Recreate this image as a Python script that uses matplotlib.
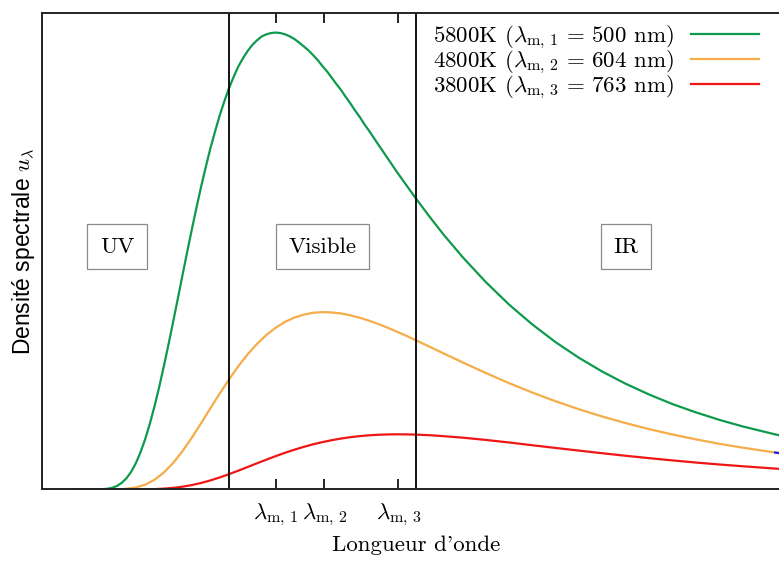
import matplotlib
matplotlib.use("Agg")
import matplotlib.pyplot as plt

plt.rcParams['mathtext.fontset'] = 'cm'
plt.rcParams['font.family'] = 'cmr10'
plt.rcParams['axes.formatter.use_mathtext'] = True

# wavelength (nm) and spectral density (green peak = 1)
# 5800K curve, read on a finer grid because it bends more
lam_g = [60, 100, 110, 120, 130, 140, 150, 160, 170, 180, 190, 200, 210, 220, 230,
         240, 250, 260, 270, 280, 290, 300, 310, 320, 330, 340, 350, 360, 370, 380,
         390, 400, 410, 420, 430, 440, 450, 460, 470, 480, 490, 500, 510, 520, 530,
         540, 550, 560, 570, 580, 590, 600, 610, 620, 630, 640, 650, 660, 670, 680,
         690, 700, 720, 740, 760, 780, 800, 830, 860, 900, 950, 1000, 1050, 1100,
         1150, 1200, 1250, 1300, 1350, 1400, 1450, 1500, 1570, 1600]
u5800 = [0, 0, 0, 0.0002, 0.0006, 0.0017, 0.0038, 0.0078, 0.0144, 0.0242, 0.0382,
         0.0567, 0.0803, 0.1089, 0.1424, 0.1805, 0.2225, 0.2680, 0.3157, 0.3653,
         0.4161, 0.4672, 0.5180, 0.5672, 0.6154, 0.6616, 0.7045, 0.7460, 0.7829,
         0.8183, 0.8493, 0.8781, 0.9029, 0.9256, 0.9437, 0.9594, 0.9727, 0.9827,
         0.9911, 0.9957, 0.9986, 0.9996, 0.9985, 0.9958, 0.9913, 0.9855, 0.9778,
         0.9695, 0.9607, 0.9503, 0.9393, 0.9264, 0.9145, 0.9008, 0.8870, 0.8737,
         0.8588, 0.8445, 0.8290, 0.8150, 0.7990, 0.7846, 0.7543, 0.7242, 0.6941,
         0.6656, 0.6371, 0.5962, 0.5571, 0.5088, 0.4538, 0.4044, 0.3608, 0.3219,
         0.2878, 0.2576, 0.2311, 0.2077, 0.1868, 0.1687, 0.1524, 0.1380, 0.1205,
         0.1137]
lam = [60, 100, 125, 150, 175, 200, 220, 240, 260, 280, 300, 320, 340, 360, 380,
       400, 420, 440, 460, 480, 500, 520, 540, 560, 580, 600, 620, 640, 660, 680,
       700, 720, 740, 760, 780, 800, 830, 860, 900, 950, 1000, 1050, 1100, 1150,
       1200, 1250, 1300, 1350, 1400, 1450, 1500, 1570, 1600]
u4800 = [0, 0, 0, 0.0001, 0.0010, 0.0043, 0.0104, 0.0210, 0.0367, 0.0577,
         0.0834, 0.1128, 0.1446, 0.1775, 0.2098, 0.2409, 0.2698, 0.2957, 0.3186,
         0.3379, 0.3540, 0.3667, 0.3761, 0.3825, 0.3866, 0.3879, 0.3873, 0.3851,
         0.3810, 0.3757, 0.3693, 0.3619, 0.3538, 0.3449, 0.3361, 0.3266, 0.3122,
         0.2975, 0.2782, 0.2549, 0.2326, 0.2119, 0.1928, 0.1754, 0.1594, 0.1451,
         0.1320, 0.1202, 0.1097, 0.1000, 0.0915, 0.0808, 0.0766]
u3800 = [0, 0, 0, 0, 0, 0.0001, 0.0003, 0.0008, 0.0018, 0.0035,
         0.0060, 0.0096, 0.0142, 0.0198, 0.0263, 0.0335, 0.0412, 0.0492, 0.0573,
         0.0652, 0.0730, 0.0803, 0.0870, 0.0932, 0.0988, 0.1036, 0.1078, 0.1114,
         0.1144, 0.1167, 0.1185, 0.1197, 0.1204, 0.1207, 0.1205, 0.1200, 0.1187,
         0.1166, 0.1134, 0.1084, 0.1028, 0.0967, 0.0908, 0.0850, 0.0792, 0.0737,
         0.0685, 0.0636, 0.0589, 0.0547, 0.0508, 0.0457, 0.0437]
# little blue stub at the right edge
lam_blue = [1570, 1600]
u_blue = [0.0808, 0.0766]

labels = [r'5800K ($\lambda_{\mathrm{m},\,1}\,=\,500$ nm)',
          r'4800K ($\lambda_{\mathrm{m},\,2}\,=\,604$ nm)',
          r'3800K ($\lambda_{\mathrm{m},\,3}\,=\,763$ nm)']
colors = ['#0e9a4c', '#f6ac48', '#f01616']
lam_max = [500, 604, 763]
tick_labels = [r'$\lambda_{\mathrm{m},\,1}$', r'$\lambda_{\mathrm{m},\,2}$', r'$\lambda_{\mathrm{m},\,3}$']
bounds = [400, 800]
zones = ['UV', 'Visible', 'IR']
zone_x = [160, 600, 1250]

fig = plt.figure(figsize=(7.79, 5.63), dpi=100)
ax = fig.add_axes([0.0543, 0.1306, 0.9588, 0.8455])

lines = []
for x, u, c in zip([lam_g, lam, lam], [u5800, u4800, u3800], colors):
    l, = ax.plot(x, u, color=c, lw=1.6)
    lines.append(l)
ax.plot(lam_blue, u_blue, color='#1a1aff', lw=1.6)

for b in bounds:
    ax.axvline(b, color='black', lw=1.3)

for z, zx in zip(zones, zone_x):
    ax.text(zx, 0.531, z, ha='center', va='center', fontsize=16.5,
            bbox=dict(boxstyle='square,pad=0.55', fc='white', ec='#8a8a8a', lw=0.9))

ax.set_xlim(0, 1600)
ax.set_ylim(0, 1.0414)
ax.set_xticks(lam_max)
ax.set_xticklabels(tick_labels, fontsize=16.5)
ax.set_yticks([])
ax.tick_params(axis='x', direction='in', top=True, length=7, width=1.2, pad=8.5)
for s in ax.spines.values():
    s.set_linewidth(1.4)
    s.set_color('#222222')

ax.set_xlabel("Longueur d'onde", fontsize=16.5, labelpad=5.5)
ax.set_ylabel(r'Densité spectrale $u_\lambda$', fontsize=16.5, family='Liberation Sans', labelpad=4)

ax.legend(lines, labels, loc='upper right', bbox_to_anchor=(0.9596, 0.979),
          frameon=False, markerfirst=False, fontsize=16.5, borderpad=0,
          borderaxespad=0, handlelength=2.95, handletextpad=0.74, labelspacing=-0.11)

plt.savefig('out.png', dpi=100)
